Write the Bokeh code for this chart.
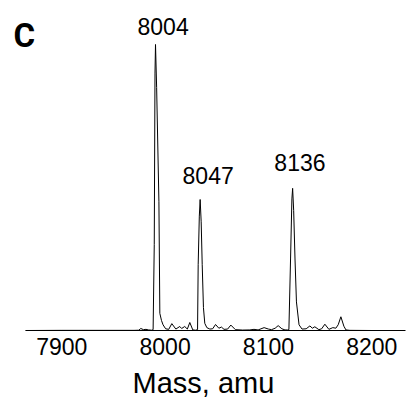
from bokeh.plotting import figure
from bokeh.models import Range1d, FixedTicker, Label, ColumnDataSource
from bokeh.core.properties import value
from bokeh.embed import file_html
from bokeh.resources import INLINE

# ---- data (mass in amu, relative intensity in %) ----
mass = [7865, 7900, 7940, 7970, 7974.5, 7976.5, 7979, 7981.5, 7984, 7987,
        7988.4, 7989.5, 7990.2, 7990.7, 7991.8, 7994.0, 7994.9, 7996.5, 7998.0, 8000.5,
        8003.5, 8006.5, 8010.4, 8014.2, 8016, 8019, 8021.5, 8023.9, 8026.8, 8029.5,
        8031.4, 8032, 8033.1, 8033.9, 8034.9, 8035.9, 8037.1, 8038.4, 8040.4, 8043.3,
        8046, 8048.8, 8052, 8054.5, 8057, 8060.5, 8063.6, 8068, 8075, 8082,
        8086, 8090, 8095.8, 8100, 8103, 8106.5, 8109.4, 8113, 8116, 8118.5,
        8119.8, 8121.4, 8122.7, 8123.4, 8124.4, 8125.7, 8127.1, 8129.6, 8132.5, 8136.5,
        8140.1, 8142.5, 8144.9, 8148.8, 8151.5, 8154.6, 8158.5, 8162.3, 8165.2, 8167.5,
        8170.1, 8173, 8175, 8178.8, 8200, 8232]
intensity = [0, 0.05, 0.05, 0.05, 0.1, 0.7, 0.3, 0.4, 0.2, 0.1,
             0.3, 30, 90, 100, 85, 45, 6, 3.5, 2, 0.6,
             0.4, 2.4, 0.5, 1.4, 0.7, 1.4, 0.5, 2.8, 0.2, 0.1,
             0.3, 23, 40, 45.8, 38, 23, 8, 2.5, 1, 0.5,
             0.6, 2.1, 0.8, 1.2, 0.4, 0.5, 1.9, 0.3, 0.15, 0.2,
             0.4, 0.2, 1.0, 0.5, 0.3, 0.8, 1.7, 0.6, 0.2, 0.2,
             0.3, 25, 46, 49.7, 42, 25, 10, 2, 0.5, 0.6,
             1.6, 0.8, 1.3, 0.3, 0.6, 2.2, 0.4, 1.0, 0.8, 2.0,
             4.8, 1.5, 0.2, 0.05, 0, 0]

peak_labels = ["8004", "8047", "8136"]
peak_mass = [7990.7, 8033.9, 8123.4]
x_ticks = [7900, 8000, 8100, 8200]
x_title = "Mass, amu"
panel_letter = "C"

# ---- layout / style ----
label_dx = [7.6, 8.0, 7.3]
label_dy = [-18.0, -24.5, -26.0]
FONT = "'Liberation Sans', Arial, sans-serif"

peak_height = [intensity[mass.index(m)] for m in peak_mass]

p = figure(width=406, height=403,
           x_range=Range1d(7840.7, 8233.6), y_range=Range1d(0, 115.38),
           output_backend="svg", toolbar_location=None, y_axis_location=None,
           min_border_left=0, min_border_right=0, min_border_top=0, min_border_bottom=73)
p.outline_line_color = None
p.xgrid.visible = False
p.ygrid.visible = False
p.background_fill_color = "white"
p.border_fill_color = "white"

p.line(mass, intensity, line_color="black", line_width=1)

src = ColumnDataSource(dict(x=peak_mass, y=peak_height, t=peak_labels, dx=label_dx, dy=label_dy))
p.text(x="x", y="y", text="t", x_offset="dx", y_offset="dy", source=src,
       text_font=value(FONT), text_font_size="23px", text_color="black",
       text_align="center", text_baseline="alphabetic")

ax = p.xaxis[0]
ax.bounds = (7864.9, 8232.6)
ax.ticker = FixedTicker(ticks=x_ticks)
ax.major_tick_in = 0
ax.major_tick_out = 0
ax.minor_tick_in = 0
ax.minor_tick_out = 0
ax.axis_line_color = "black"
ax.axis_line_width = 1
ax.major_label_text_font = FONT
ax.major_label_text_font_size = "23px"
ax.major_label_text_color = "black"
ax.major_label_standoff = 7
ax.axis_label = x_title
ax.axis_label_text_font = FONT
ax.axis_label_text_font_size = "29px"
ax.axis_label_text_font_style = "normal"
ax.axis_label_text_color = "black"
ax.axis_label_standoff = 9

p.add_layout(Label(x=23.8, y=295, x_units="screen", y_units="screen", text=panel_letter,
                   text_font="Roboto",
                   text_font_style="bold", text_font_size="33px", text_color="black",
                   text_align="center", text_baseline="alphabetic"))

open("out.html", "w").write(file_html(p, INLINE))
